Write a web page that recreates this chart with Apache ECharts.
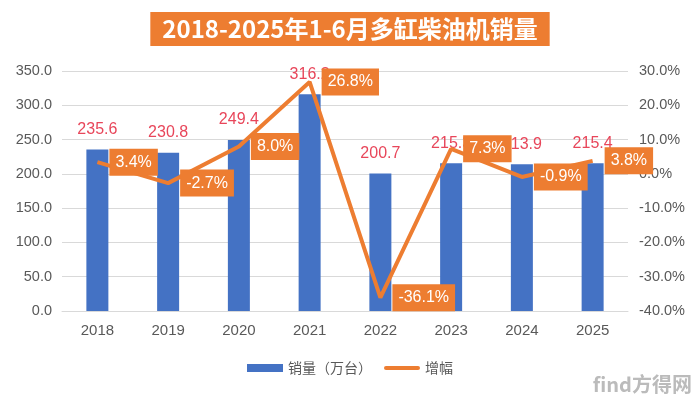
<!DOCTYPE html>
<html>
<head>
<meta charset="utf-8">
<script src="https://cdn.jsdelivr.net/npm/echarts@6/dist/echarts.min.js"></script>
<style>
html, body { margin: 0; padding: 0; background: #fff; }
#main { width: 700px; height: 398px; }
</style>
</head>
<body>
<div id="main"></div>
<script>
// 数据
var years = ['2018', '2019', '2020', '2021', '2022', '2023', '2024', '2025'];
var sales = [235.6, 230.8, 249.4, 316.2, 200.7, 215.3, 213.9, 215.4];
var growth = [3.4, -2.7, 8.0, 26.8, -36.1, 7.3, -0.9, 3.8];

var chart = echarts.init(document.getElementById('main'));

var option = {
    animation: false,
    title: {
        text: '2018-2025年1-6月多缸柴油机销量',
        left: 'center',
        top: 12,
        backgroundColor: '#ED7D31',
        padding: [3, 12, 3, 12],
        textStyle: {
            color: '#fff',
            fontSize: 24,
            fontWeight: 'bold',
            fontFamily: 'Noto Sans CJK SC',
            lineHeight: 28
        }
    },
    grid: {
        left: 62,
        right: 72,
        top: 71,
        bottom: 87
    },
    legend: {
        bottom: 18,
        left: 'center',
        itemWidth: 36,
        itemHeight: 8,
        itemGap: 12,
        textStyle: { color: '#595959', fontSize: 14, fontFamily: 'Noto Sans CJK SC' },
        data: [
            { name: '销量（万台）', icon: 'rect' },
            { name: '增幅', icon: 'path://M2,0 L34,0 A2,2 0 0 1 34,4 L2,4 A2,2 0 0 1 2,0 Z' }
        ]
    },
    xAxis: {
        type: 'category',
        data: years,
        axisTick: { show: false },
        axisLine: { lineStyle: { color: '#D9D9D9' } },
        axisLabel: { color: '#595959', fontSize: 15, margin: 12 }
    },
    yAxis: [
        {
            type: 'value',
            min: 0,
            max: 350,
            interval: 50,
            axisLabel: {
                color: '#595959',
                fontSize: 14.5,
                margin: 10,
                formatter: function (v) { return v.toFixed(1); }
            },
            splitLine: { lineStyle: { color: '#D9D9D9' } }
        },
        {
            type: 'value',
            min: -40,
            max: 30,
            interval: 10,
            axisLabel: {
                color: '#595959',
                fontSize: 14.5,
                margin: 11,
                formatter: function (v) { return v.toFixed(1) + '%'; }
            },
            splitLine: { show: false }
        }
    ],
    series: [
        {
            name: '销量（万台）',
            type: 'bar',
            data: sales,
            barWidth: 22,
            itemStyle: { color: '#4472C4' },
            label: {
                show: true,
                position: 'top',
                distance: 12,
                color: '#E8465A',
                fontSize: 16,
                formatter: function (p) { return p.value.toFixed(1); }
            }
        },
        {
            name: '增幅',
            type: 'line',
            yAxisIndex: 1,
            data: growth,
            symbol: 'circle',
            symbolSize: 0,
            showSymbol: true,
            lineStyle: { color: '#ED7D31', width: 4 },
            itemStyle: { color: '#ED7D31' },
            label: {
                show: true,
                position: 'right',
                distance: 12,
                color: '#fff',
                fontSize: 16,
                backgroundColor: '#ED7D31',
                padding: [6, 6, 5, 6],
                formatter: function (p) { return p.value.toFixed(1) + '%'; }
            },
            z: 5
        }
    ],
    graphic: [
        {
            type: 'text',
            right: 8,
            bottom: 4,
            style: {
                text: 'find方得网',
                fill: '#BBBBBB',
                fontSize: 20,
                fontWeight: 'bold',
                fontFamily: 'Noto Sans CJK SC'
            }
        }
    ]
};
chart.setOption(option);
</script>
</body>
</html>
